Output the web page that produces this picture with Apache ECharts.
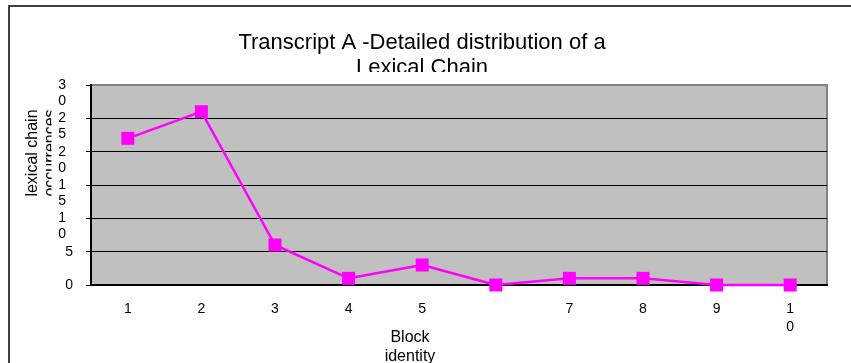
<!DOCTYPE html>
<html><head><meta charset="utf-8">
<script src="https://cdn.jsdelivr.net/npm/echarts@6/dist/echarts.min.js"></script>
<style>html,body{margin:0;padding:0;background:#fff}#c{width:851px;height:363px}</style>
</head><body><div id="c"></div>
<script>
const categories = ['1','2','3','4','5','6','7','8','9','10'];
const xTickLabels = ['1','2','3','4','5','','7','8','9','1\n0'];
const occurrences = [22, 26, 6, 1, 3, 0, 1, 1, 0, 0];
const yTickValues = [0, 5, 10, 15, 20, 25, 30];
const yTickLabels = ['0','5','1\n0','1\n5','2\n0','2\n5','3\n0'];
const titleText = 'Transcript A -Detailed distribution of a\nLexical Chain';
const xName = 'Block\nidentity';
const yName = 'lexical chain\noccurrences';

const FONT = 'Liberation Sans';
const chart = echarts.init(document.getElementById('c'), null, {renderer: 'canvas'});
chart.setOption({
  animation: false,
  backgroundColor: '#ffffff',
  title: {
    text: titleText, left: 422, top: 30, textAlign: 'center', padding: 0,
    textStyle: {fontFamily: FONT, fontSize: 22, fontWeight: 'normal', color: '#000', lineHeight: 25}
  },
  grid: [
    {left: 91, right: 24, top: 85, bottom: 78, show: true, containLabel: false, outerBoundsMode: 'none',
     backgroundColor: '#c0c0c0', borderColor: '#808080', borderWidth: 2},
    // label-only grid, offset 8px upward so each wrapped tick label starts on its tick
    {left: 91, right: 24, top: 77, bottom: 86, show: false, containLabel: false, outerBoundsMode: 'none'}
  ],
  xAxis: [{
    type: 'category', data: categories, boundaryGap: true, gridIndex: 0,
    name: xName, nameLocation: 'middle', nameGap: 43, nameMoveOverlap: false,
    nameTextStyle: {fontFamily: FONT, fontSize: 16, lineHeight: 19, color: '#000', padding: [0, 98, 0, 0]},
    axisLine: {lineStyle: {color: '#000', width: 2}},
    axisTick: {length: 5, lineStyle: {color: '#000', width: 1}},
    axisLabel: {
      interval: 0, margin: 15, fontFamily: FONT, fontSize: 14, lineHeight: 18, color: '#000',
      hideOverlap: false,
      formatter: (v, i) => xTickLabels[i]
    },
    splitLine: {show: false}
  }, {
    type: 'category', data: categories, gridIndex: 1, show: false
  }],
  yAxis: [{
    type: 'value', min: 0, max: 30, interval: 5, gridIndex: 0,
    name: yName, nameLocation: 'middle', nameGap: 31, nameRotate: 90, nameMoveOverlap: false,
    nameTextStyle: {fontFamily: FONT, fontSize: 16, lineHeight: 18, color: '#000', padding: [0, 0, 0, 64]},
    axisLine: {show: true, lineStyle: {color: '#000', width: 2}},
    axisTick: {show: true, length: 5, lineStyle: {color: '#000', width: 1}},
    axisLabel: {show: false},
    splitLine: {show: true, showMinLine: false, showMaxLine: false, lineStyle: {color: '#000', width: 1}}
  }, {
    type: 'value', min: 0, max: 30, interval: 5, gridIndex: 1,
    axisLine: {show: false}, axisTick: {show: false}, splitLine: {show: false},
    axisLabel: {
      margin: 18, color: '#000', fontFamily: FONT, fontSize: 14, lineHeight: 16, verticalAlign: 'top',
      showMinLabel: true, showMaxLabel: true, hideOverlap: false,
      formatter: (v) => {
        const i = yTickValues.indexOf(v);
        const s = i >= 0 ? yTickLabels[i] : '';
        return s.indexOf('\n') >= 0 ? '{w|' + s + '}' : '{n|' + s + '}';
      },
      rich: {
        w: {fontFamily: FONT, fontSize: 14, lineHeight: 16, color: '#000', padding: [0, 7, 0, 0]},
        n: {fontFamily: FONT, fontSize: 14, lineHeight: 16, color: '#000'}
      }
    }
  }],
  graphic: [
    {type: 'rect', silent: true, z: -10, shape: {x: 9, y: 6, width: 1000, height: 1000},
     style: {fill: 'none', stroke: '#404040', lineWidth: 2}},
    {type: 'rect', silent: true, z: 100, shape: {x: 330, y: 72, width: 200, height: 11},
     style: {fill: '#ffffff'}},
    {type: 'rect', silent: true, z: 100, shape: {x: 51.5, y: 90, width: 6, height: 150},
     style: {fill: '#ffffff'}}
  ],
  series: [{
    type: 'line', data: occurrences, clip: false, xAxisIndex: 0, yAxisIndex: 0,
    symbol: 'rect', symbolSize: 13,
    lineStyle: {color: '#ff00ff', width: 2.5},
    itemStyle: {color: '#ff00ff'}
  }]
});
</script>
</body></html>
